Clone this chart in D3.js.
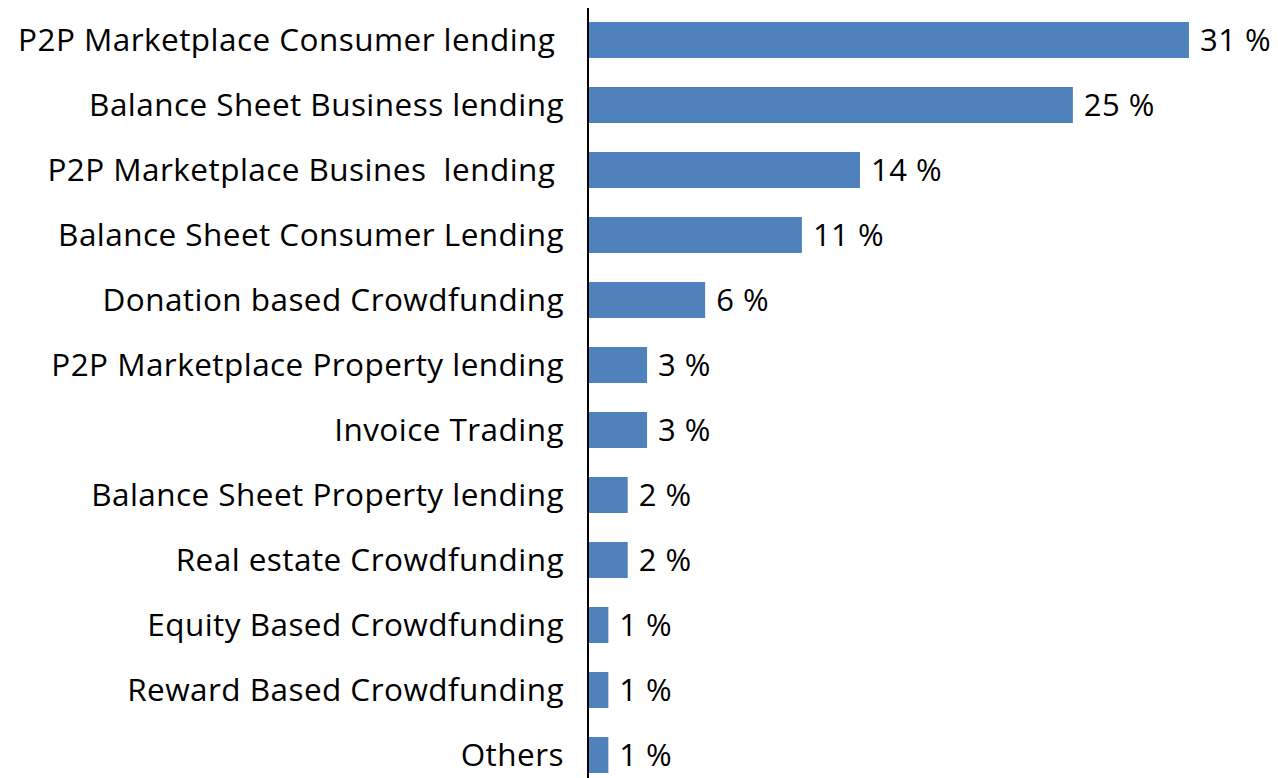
<!DOCTYPE html>
<html>
<head>
<meta charset="utf-8">
<script src="https://cdn.jsdelivr.net/npm/d3@7"></script>
<style>
  html, body { margin: 0; padding: 0; background: #fff; }
  svg { display: block; }
  text { font-family: "Open Sans", Lato, sans-serif; fill: #000; }
</style>
</head>
<body>
<svg id="chart" width="1278" height="778"></svg>
<script>
// Share of volume by alternative finance model
const categories = [
  "P2P Marketplace Consumer lending ",
  "Balance Sheet Business lending",
  "P2P Marketplace Busines  lending ",
  "Balance Sheet Consumer Lending",
  "Donation based Crowdfunding",
  "P2P Marketplace Property lending",
  "Invoice Trading",
  "Balance Sheet Property lending",
  "Real estate Crowdfunding",
  "Equity Based Crowdfunding",
  "Reward Based Crowdfunding",
  "Others"
];
const shares = [31, 25, 14, 11, 6, 3, 3, 2, 2, 1, 1, 1];

const svg = d3.select("#chart");
const axisX = 588;

const x = d3.scaleLinear().domain([0, 31]).range([589, 1189]);
const y = d3.scaleBand()
  .domain(categories)
  .range([7.5, 787.5])
  .paddingInner(0.446)
  .paddingOuter(0.223);

svg.append("g")
  .selectAll("rect")
  .data(shares)
  .join("rect")
  .attr("x", x(0))
  .attr("y", (d, i) => y(categories[i]))
  .attr("width", d => x(d) - x(0))
  .attr("height", y.bandwidth())
  .attr("fill", "#4f81bd");

// category labels, right-aligned against the axis
svg.append("g")
  .selectAll("text")
  .data(categories)
  .join("text")
  .attr("x", 564)
  .attr("y", d => y(d) + y.bandwidth() / 2)
  .attr("dy", "0.36em")
  .attr("text-anchor", "end")
  .attr("font-size", 31.5)
  .attr("letter-spacing", 0.45)
  .style("white-space", "pre")
  .attr("xml:space", "preserve")
  .text(d => d);

// value labels
svg.append("g")
  .selectAll("text")
  .data(shares)
  .join("text")
  .attr("x", d => x(d) + 11)
  .attr("y", (d, i) => y(categories[i]) + y.bandwidth() / 2)
  .attr("dy", "0.36em")
  .attr("font-size", 31)
  .attr("letter-spacing", 0.5)
  .style("white-space", "pre")
  .text(d => d + " %");

// vertical category axis line
svg.append("line")
  .attr("x1", axisX).attr("x2", axisX)
  .attr("y1", 8).attr("y2", 778)
  .attr("stroke", "#000")
  .attr("stroke-width", 2);
</script>
</body>
</html>
